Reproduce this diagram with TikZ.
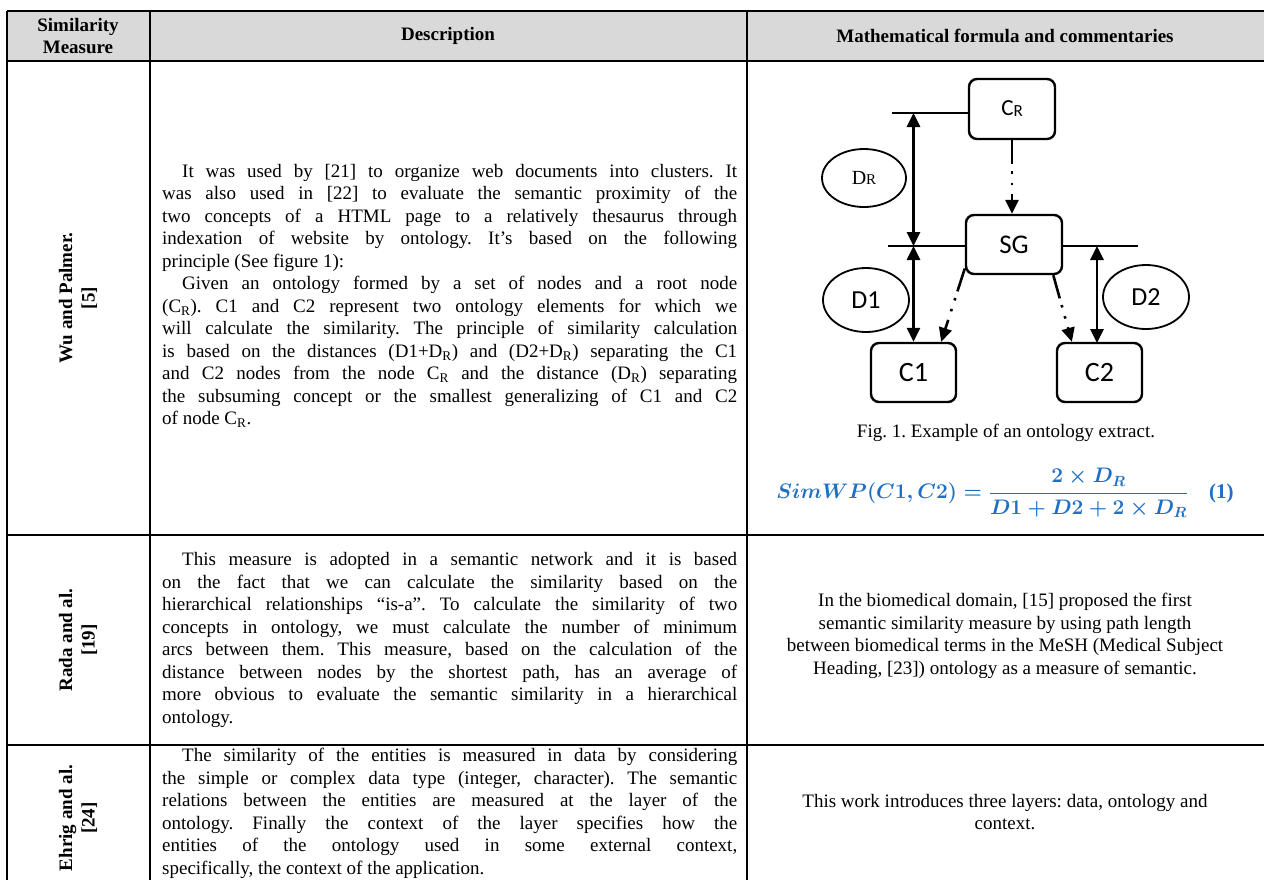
\RequirePackage{fix-cm}
\documentclass[tikz,border=0pt]{standalone}
\usepackage{amsmath}
\usepackage{fontspec}
\setmainfont{Liberation Serif}
\newfontfamily\calibri{Carlito}
\usetikzlibrary{arrows.meta, positioning, shapes.geometric, calc}
\definecolor{headGray}{HTML}{D9D9D9}
\definecolor{mathBlue}{HTML}{1F6FC4}
\newcommand{\subR}{\textsubscript{R}}
\newcommand{\fsz}[1]{\fontsize{#1}{#1}\selectfont}
\newcommand{\bodyfont}{\fontsize{19}{22.5}\selectfont\frenchspacing}
\tikzset{
  tabRule/.style={line width=2.6pt},
  headText/.style={font=\bodyfont\bfseries, align=center, inner sep=0pt},
  rowLabel/.style={font=\bodyfont\bfseries, align=center, rotate=90, inner sep=0pt},
  descText/.style={anchor=west, inner sep=0pt},
  noteText/.style={align=center, inner sep=0pt},
  conceptBox/.style={rectangle, rounded corners=8pt, draw, line width=2.4pt,
                     inner sep=0pt, font=\calibri},
  distEll/.style={ellipse, draw, line width=1.8pt, inner sep=0pt},
  levelLine/.style={line width=2pt},
  arrowBoth/.style={{Triangle[length=14pt, width=13pt]}-{Triangle[length=14pt, width=13pt]},
                    line width=2.8pt},
  arrowDash/.style={-{Triangle[length=14pt, width=13pt]}, line width=2.6pt,
                    dash pattern=on 24pt off 7pt on 2.5pt off 9pt on 2.5pt off 9pt},
  mathEq/.style={text=mathBlue, inner sep=0pt, font=\fontsize{21}{25}\selectfont},
}
\begin{document}
\begin{tikzpicture}[x=1pt, y=1pt, font=\bodyfont, node distance=20pt]
    \useasboundingbox (0,0) rectangle (1264,-879);
    \fill[headGray] (7,-11) rectangle (1264,-61);
    \foreach \y in {-11,-61,-535,-745}
      \draw[tabRule] (7,\y) -- (1264,\y);
    \foreach \x in {7,150,747}
      \draw[tabRule] (\x,-11) -- (\x,-880);

    \node[headText] (hMeasure) at (78,-36) {Similarity\\Measure};
    \node[headText] (hDesc) at (448,-36) {Description};
    \node[headText] (hFormula) at (1005,-36) {Mathematical formula and commentaries};

    \node[rowLabel] (wuLab) at (78,-298) {Wu and Palmer.\\{[5]}};
    \node[rowLabel] (radaLab) at (78,-640) {Rada and al.\\{[19]}};
    \node[rowLabel] (ehrigLab) at (78,-818) {Ehrig and al.\\{[24]}};

    \node[descText] (wuDesc) at (162,-296) {\parbox{575pt}{\parindent=20pt
      It was used by [21] to organize web documents into clusters. It\linebreak
      was also used in [22] to evaluate the semantic proximity of the\linebreak
      two concepts of a HTML page to a relatively thesaurus through\linebreak
      indexation of website by ontology. It’s based on the following\linebreak
      principle (See figure 1):\par
      Given an ontology formed by a set of nodes and a root node\linebreak
      (C\subR). C1 and C2 represent two ontology elements for which we\linebreak
      will calculate the similarity. The principle of similarity calculation\linebreak
      is based on the distances (D1+D\subR) and (D2+D\subR) separating the C1\linebreak
      and C2 nodes from the node C\subR{} and the distance (D\subR) separating\linebreak
      the subsuming concept or the smallest generalizing of C1 and C2\linebreak
      of node C\subR.}};
    \node[descText] (radaDesc) at (162,-640) {\parbox{575pt}{\parindent=20pt
      This measure is adopted in a semantic network and it is based\linebreak
      on the fact that we can calculate the similarity based on the\linebreak
      hierarchical relationships “is-a”. To calculate the similarity of two\linebreak
      concepts in ontology, we must calculate the number of minimum\linebreak
      arcs between them. This measure, based on the calculation of the\linebreak
      distance between nodes by the shortest path, has an average of\linebreak
      more obvious to evaluate the semantic similarity in a hierarchical\linebreak
      ontology.}};
    \node[descText, anchor=north west] (ehrigDesc) at (162,-748) {\parbox{575pt}{\parindent=20pt
      The similarity of the entities is measured in data by considering\linebreak
      the simple or complex data type (integer, character). The semantic\linebreak
      relations between the entities are measured at the layer of the\linebreak
      ontology. Finally the context of the layer specifies how the\linebreak
      entities of the ontology used in some external context,\linebreak
      specifically, the context of the application.}};

    \node[noteText] (radaNote) at (1005,-636)
      {In the biomedical domain, [15] proposed the first\\
       semantic similarity measure by using path length\\
       between biomedical terms in the MeSH (Medical Subject\\
       Heading, [23]) ontology as a measure of semantic.};
    \node[noteText] (ehrigNote) at (1005,-812)
      {This work introduces three layers: data, ontology and\\context.};

    \node[conceptBox, minimum width=86pt, minimum height=60pt] (CR) at (1012,-109)
      {\fsz{23}C\raisebox{-1pt}{\fsz{17}R}};
    \node[conceptBox, minimum width=96pt, minimum height=59pt, font=\calibri\fsz{27}] (SG) at (1014,-244.5) {SG};
    \node[conceptBox, minimum width=85pt, minimum height=59pt, font=\calibri\fsz{28}] (C1) at (913.5,-372.5) {C1};
    \node[conceptBox, minimum width=85pt, minimum height=59pt, font=\calibri\fsz{28}] (C2) at (1099.5,-372.5) {C2};
    \node[distEll, minimum width=84pt, minimum height=58pt] (DR) at (864,-178)
      {\fsz{20}D\fsz{15}R};
    \node[distEll, minimum width=86pt, minimum height=64pt, font=\calibri\fsz{26}] (D1) at (866,-300) {D1};
    \node[distEll, minimum width=86pt, minimum height=64pt, font=\calibri\fsz{26}] (D2) at (1146,-297) {D2};

    \coordinate (topL) at (892,-113);
    \coordinate (midL) at (888,-246);
    \coordinate (midR) at (1138,-246);
    \draw[levelLine] (topL) -- (CR.west |- topL);
    \draw[levelLine] (midL) -- (SG.west |- midL);
    \draw[levelLine] (SG.east |- midR) -- (midR);
    \draw[arrowBoth] (C1.north |- topL) -- (C1.north |- midL);
    \draw[arrowBoth] (C1.north |- midL) -- (C1.north);
    \draw[arrowBoth] (1097,-246) -- (1097,-343);
    \draw[arrowDash] (CR.south) -- (CR.south |- SG.north);
    \draw[arrowDash] (SG.206) -- (C1.48);
    \draw[arrowDash] (SG.322) -- (C2.132);

    \node (figCap) at (1006,-433) {Fig. 1. Example of an ontology extract.};
    \node[mathEq] (eqWP) at (1005,-493)
      {{\boldmath$\displaystyle SimWP(C1,C2)=\frac{2\times D_R}{D1+D2+2\times D_R}$}\quad\textbf{(1)}};
  \end{tikzpicture}
\end{document}
